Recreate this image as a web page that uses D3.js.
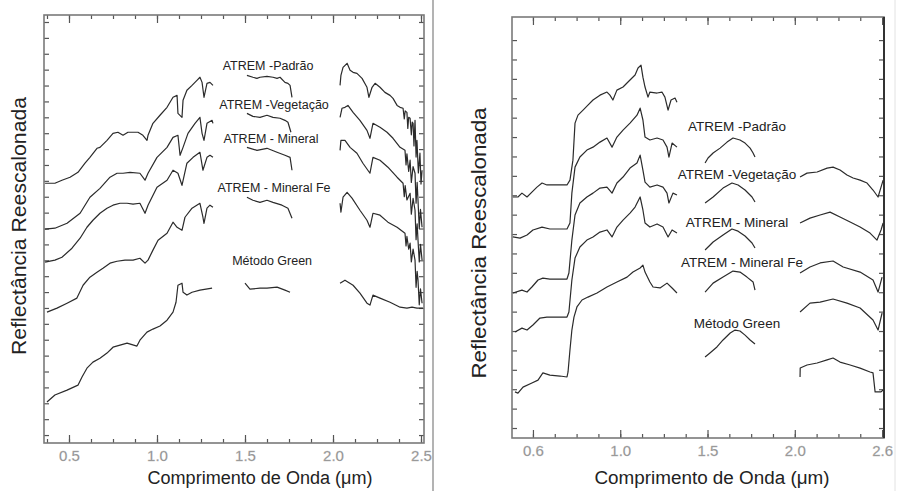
<!DOCTYPE html>
<html>
<head>
<meta charset="utf-8">
<script src="https://cdn.jsdelivr.net/npm/d3@7"></script>
<style>
  body { margin: 0; background: #fff; }
  svg text { font-family: "Liberation Sans", Arial, sans-serif; }
  .axis .domain { display: none; }
  .axis line { stroke: #555; }
</style>
</head>
<body>
<svg id="chart" width="897" height="491"></svg>
<script>
// series names, same order in both panels
const seriesNames = ['ATREM -Padrão', 'ATREM -Vegetação', 'ATREM - Mineral', 'ATREM - Mineral Fe', 'Método Green'];

// left panel: [wavelength µm, rescaled reflectance], null = gap (water bands)
const leftPadrao = [[0.364,15.85],[0.420,15.85],[0.460,16.04],[0.506,16.23],[0.551,16.54],[0.591,17.11],[0.619,17.48],[0.659,18.05],[0.676,18.11],[0.716,18.55],[0.750,18.99],[0.778,19.06],[0.807,18.87],[0.835,19.06],[0.892,19.06],[0.920,18.87],[0.943,18.55],[0.949,18.87],[0.977,19.62],[1.017,20.13],[1.057,20.63],[1.091,21.26],[1.114,21.38],[1.119,20.25],[1.142,20.00],[1.148,21.07],[1.170,21.70],[1.199,22.01],[1.227,22.33],[1.244,22.52],[1.256,22.20],[1.267,21.26],[1.284,22.14],[1.301,22.20],[1.318,22.01],
  null,[1.511,22.64],[1.545,22.52],[1.568,22.45],[1.585,22.52],[1.625,22.58],[1.659,22.52],[1.682,22.45],[1.699,22.52],[1.727,22.20],[1.744,22.14],[1.756,22.01],[1.767,21.26],
  null,[2.040,22.01],[2.045,22.64],[2.057,23.14],[2.080,23.40],[2.097,22.96],[2.114,22.83],[2.136,22.77],[2.165,22.45],[2.193,21.89],[2.204,21.26],[2.222,21.89],[2.239,22.14],[2.267,21.89],[2.295,21.57],[2.324,21.38],[2.341,21.19],[2.364,20.75],[2.381,20.63],[2.398,20.57],[2.405,19.9],[2.410,20.4],[2.420,20.31],[2.425,19.3],[2.430,20.0],[2.438,19.94],[2.445,18.9],[2.450,19.7],[2.455,19.62],[2.460,18.2],[2.466,19.81],[2.472,17.5],[2.477,18.55],[2.485,16.5],[2.494,17.74],[2.500,15.8],[2.506,16.67]];
const leftVegetacao = [[0.364,12.96],[0.420,13.02],[0.489,13.33],[0.563,13.96],[0.619,14.97],[0.676,15.53],[0.733,16.23],[0.773,16.48],[0.807,16.48],[0.847,16.54],[0.903,16.48],[0.932,16.04],[0.949,16.48],[1.000,17.48],[1.057,18.11],[1.091,18.74],[1.119,18.87],[1.131,17.61],[1.148,18.11],[1.176,18.99],[1.216,19.62],[1.244,20.00],[1.256,18.99],[1.267,18.55],[1.284,19.62],[1.313,19.81],[1.318,19.62],
  null,[1.511,20.25],[1.545,20.06],[1.585,20.00],[1.625,20.13],[1.659,20.00],[1.699,19.94],[1.727,19.81],[1.744,19.69],[1.761,19.06],
  null,[2.040,20.00],[2.051,20.57],[2.068,20.63],[2.085,20.75],[2.114,20.31],[2.153,19.81],[2.193,19.18],[2.210,18.68],[2.227,19.62],[2.267,19.37],[2.307,19.06],[2.341,18.68],[2.381,18.11],[2.409,17.92],[2.415,17.0],[2.420,17.7],[2.430,16.6],[2.438,17.30],[2.445,15.9],[2.455,16.9],[2.466,16.48],[2.472,14.6],[2.478,15.9],[2.483,14.78],[2.490,13.0],[2.497,14.2],[2.506,13.08]];
const leftMineral = [[0.364,10.88],[0.420,11.01],[0.460,11.19],[0.517,11.76],[0.563,12.39],[0.602,13.08],[0.636,13.52],[0.676,13.96],[0.716,14.28],[0.750,14.47],[0.790,14.59],[0.830,14.59],[0.864,14.53],[0.903,14.59],[0.932,13.96],[0.949,14.47],[1.000,15.60],[1.057,16.04],[1.091,16.67],[1.119,16.48],[1.142,15.72],[1.170,17.11],[1.205,17.48],[1.244,17.80],[1.261,16.67],[1.284,17.48],[1.301,17.61],[1.318,17.48],
  null,[1.511,18.11],[1.568,17.92],[1.625,18.05],[1.682,17.80],[1.727,17.61],[1.756,17.48],[1.767,16.67],
  null,[2.040,17.92],[2.045,18.55],[2.068,18.55],[2.097,18.11],[2.136,17.74],[2.170,17.11],[2.210,16.48],[2.227,17.48],[2.267,17.30],[2.312,16.86],[2.364,16.23],[2.398,15.85],[2.405,15.0],[2.410,15.7],[2.420,14.8],[2.438,15.22],[2.445,13.9],[2.455,14.9],[2.466,14.15],[2.472,12.3],[2.478,13.3],[2.483,12.26],[2.490,10.9],[2.497,12.0],[2.506,11.01]];
const leftMineralFe = [[0.375,7.74],[0.432,7.99],[0.489,8.30],[0.545,8.62],[0.580,9.43],[0.619,9.94],[0.659,10.25],[0.693,10.50],[0.733,10.82],[0.773,10.94],[0.818,11.01],[0.864,11.01],[0.903,11.13],[0.932,10.82],[0.949,11.01],[0.977,11.64],[1.006,12.26],[1.057,12.70],[1.091,13.40],[1.114,13.08],[1.142,12.89],[1.159,13.71],[1.199,14.28],[1.244,14.59],[1.261,13.71],[1.267,13.33],[1.284,14.28],[1.301,14.47],[1.318,14.34],
  null,[1.511,14.97],[1.545,14.78],[1.585,14.65],[1.625,14.78],[1.659,14.65],[1.710,14.47],[1.744,14.28],[1.767,13.65],
  null,[2.040,14.59],[2.045,14.03],[2.057,14.97],[2.080,15.28],[2.108,14.91],[2.153,14.15],[2.193,13.52],[2.210,13.08],[2.227,13.96],[2.267,13.84],[2.312,13.40],[2.364,13.08],[2.409,12.70],[2.415,11.9],[2.420,12.5],[2.430,11.7],[2.438,12.08],[2.445,10.9],[2.455,11.7],[2.466,11.01],[2.472,9.3],[2.478,10.3],[2.483,9.75],[2.490,8.2],[2.497,9.2],[2.506,8.30]];
const leftGreen = [[0.375,2.08],[0.420,2.52],[0.489,2.83],[0.551,3.14],[0.574,3.65],[0.602,4.21],[0.636,4.59],[0.676,4.84],[0.716,5.16],[0.750,5.53],[0.790,5.66],[0.830,5.79],[0.886,5.60],[0.903,5.97],[0.943,6.48],[0.977,6.67],[1.017,6.86],[1.057,7.23],[1.091,7.74],[1.108,8.36],[1.119,9.43],[1.142,9.56],[1.148,8.99],[1.170,8.81],[1.199,8.99],[1.244,9.12],[1.313,9.25],
  null,[1.500,9.56],[1.528,9.18],[1.585,9.25],[1.625,9.25],[1.682,9.31],[1.727,9.12],[1.756,8.99],
  null,[2.040,9.56],[2.068,9.75],[2.114,9.43],[2.153,8.93],[2.193,8.30],[2.210,8.18],[2.227,8.81],[2.267,8.62],[2.324,8.36],[2.381,8.05],[2.420,7.99],[2.449,8.05],[2.477,7.99],[2.511,7.99]];

// right panel
const rightPadrao = [[0.385,11.91],[0.414,11.91],[0.437,12.11],[0.466,11.91],[0.494,12.16],[0.523,12.42],[0.552,12.63],[0.580,12.53],[0.615,12.53],[0.695,12.53],[0.712,12.78],[0.729,13.81],[0.741,15.72],[0.758,16.13],[0.787,16.39],[0.815,16.65],[0.844,16.91],[0.884,17.16],[0.924,17.32],[0.941,17.16],[0.958,16.91],[0.981,17.42],[1.016,17.58],[1.056,17.94],[1.085,18.20],[1.102,18.56],[1.119,18.71],[1.130,18.09],[1.142,17.58],[1.159,17.06],[1.170,17.32],[1.211,17.27],[1.239,17.32],[1.256,17.06],[1.274,16.39],[1.291,16.91],[1.314,17.01],[1.325,16.80],
  null,[1.486,13.66],[1.503,13.92],[1.532,14.18],[1.572,14.43],[1.612,14.74],[1.646,14.95],[1.686,14.85],[1.715,14.69],[1.744,14.43],[1.761,14.18],[1.772,13.97],
  null,[2.030,12.94],[2.070,13.14],[2.128,13.20],[2.185,13.40],[2.219,13.45],[2.259,13.30],[2.299,13.04],[2.334,12.89],[2.374,12.78],[2.414,12.63],[2.448,12.27],[2.477,11.91],[2.494,12.42],[2.506,12.78]];
const rightVegetacao = [[0.385,9.85],[0.426,9.79],[0.466,9.95],[0.500,10.21],[0.552,10.36],[0.597,10.26],[0.655,10.26],[0.695,10.26],[0.712,10.57],[0.723,12.11],[0.741,13.45],[0.769,13.97],[0.809,14.33],[0.844,14.48],[0.884,14.74],[0.924,14.95],[0.953,14.48],[0.981,15.00],[1.016,15.36],[1.056,15.72],[1.096,16.13],[1.114,16.49],[1.130,15.88],[1.142,15.00],[1.170,14.85],[1.211,14.95],[1.245,14.85],[1.268,14.48],[1.279,13.97],[1.297,14.69],[1.325,14.48],
  null,[1.486,11.60],[1.532,11.91],[1.589,12.37],[1.640,12.63],[1.675,12.53],[1.715,12.27],[1.755,11.91],[1.772,11.65],
  null,[2.030,10.57],[2.087,10.82],[2.145,10.98],[2.202,11.13],[2.259,10.88],[2.317,10.62],[2.374,10.36],[2.431,10.05],[2.471,9.69],[2.494,10.21],[2.506,10.57]];
const rightMineral = [[0.385,6.96],[0.437,7.11],[0.466,7.01],[0.494,7.27],[0.529,7.63],[0.557,7.73],[0.597,7.68],[0.695,7.68],[0.706,7.99],[0.723,9.69],[0.741,10.98],[0.769,11.60],[0.809,11.91],[0.844,12.11],[0.884,12.37],[0.924,12.42],[0.953,12.11],[0.981,12.63],[1.016,12.94],[1.056,13.40],[1.096,13.66],[1.114,14.07],[1.130,13.30],[1.142,12.68],[1.170,12.42],[1.211,12.53],[1.245,12.42],[1.268,12.11],[1.279,11.60],[1.302,12.11],[1.325,12.01],
  null,[1.486,9.18],[1.532,9.59],[1.589,9.95],[1.640,10.26],[1.675,10.15],[1.715,9.90],[1.755,9.54],[1.772,9.28],
  null,[2.030,7.99],[2.087,8.30],[2.145,8.51],[2.219,8.61],[2.277,8.30],[2.374,8.04],[2.448,7.63],[2.477,7.01],[2.500,7.78]];
const rightMineralFe = [[0.397,4.95],[0.437,5.15],[0.466,5.05],[0.500,5.31],[0.540,5.67],[0.580,5.72],[0.638,5.72],[0.695,5.72],[0.706,5.98],[0.723,7.63],[0.741,8.76],[0.769,9.33],[0.809,9.69],[0.844,9.85],[0.884,10.10],[0.924,10.21],[0.953,9.85],[0.981,10.36],[1.016,10.72],[1.056,11.08],[1.085,11.39],[1.114,11.91],[1.130,11.24],[1.142,10.57],[1.170,10.36],[1.211,10.52],[1.245,10.36],[1.274,9.85],[1.297,10.21],[1.325,10.05],
  null,[1.486,7.01],[1.532,7.47],[1.589,7.78],[1.646,8.09],[1.686,8.04],[1.726,7.78],[1.761,7.53],[1.772,7.11],
  null,[2.030,5.98],[2.087,6.44],[2.145,6.49],[2.219,6.65],[2.299,6.44],[2.374,6.19],[2.448,5.57],[2.477,5.05],[2.500,5.93]];
const rightGreen = [[0.397,1.86],[0.414,1.80],[0.443,2.11],[0.494,2.32],[0.529,2.47],[0.557,2.84],[0.597,2.73],[0.655,2.68],[0.695,2.63],[0.701,2.89],[0.712,4.02],[0.723,5.05],[0.735,5.72],[0.752,6.24],[0.781,6.60],[0.815,6.75],[0.867,6.96],[0.924,7.27],[0.981,7.53],[1.039,7.78],[1.073,8.04],[1.114,8.25],[1.130,8.40],[1.142,8.04],[1.170,7.53],[1.188,7.27],[1.228,7.22],[1.268,7.47],[1.297,7.22],[1.325,6.96],
  null,[1.486,3.66],[1.514,3.87],[1.554,4.18],[1.589,4.54],[1.630,4.90],[1.658,5.05],[1.686,5.00],[1.715,4.79],[1.744,4.54],[1.772,4.33],
  null,[2.030,2.63],[2.031,3.09],[2.070,3.25],[2.128,3.35],[2.185,3.51],[2.219,3.61],[2.259,3.40],[2.317,3.25],[2.374,3.09],[2.431,2.89],[2.448,2.84],[2.460,1.86],[2.494,1.86],[2.506,1.96]];

// where the series names sit, in data units
const leftLabelPos = [[1.631,23.21],[1.665,20.75],[1.648,18.62],[1.665,15.53],[1.654,10.94]];
const rightLabelPos = [[1.669,15.52],[1.669,13.09],[1.669,10.62],[1.698,8.51],[1.669,5.41]];

const majorTicks = [0.5, 1.0, 1.5, 2.0, 2.5];
const leftTickLabels = ['0.5', '1.0', '1.5', '2.0', '2.5'];
const rightTickLabels = ['0.6', '1.0', '1.5', '2.0', '2.6'];
const xTitle = 'Comprimento de Onda (μm)';
const yTitle = 'Reflectância Reescalonada';

const svg = d3.select('#chart');

function drawPanel(cfg) {
  const g = svg.append('g');
  const x = d3.scaleLinear().domain(cfg.xDomain).range([cfg.left, cfg.right]);
  const y = d3.scaleLinear().domain(cfg.yDomain).range([cfg.bottom, cfg.top]);
  const minor = d3.range(0.375, 2.52, 0.125).filter(t => t >= cfg.xDomain[0] && t <= cfg.xDomain[1]);
  const yTicks = d3.range(0, cfg.yCount);

  // ticks, all pointing into the plot
  g.append('g').attr('class', 'axis').attr('transform', `translate(0,${cfg.bottom})`)
    .call(d3.axisBottom(x).tickValues(minor).tickSize(-4).tickFormat(''));
  g.append('g').attr('class', 'axis').attr('transform', `translate(0,${cfg.top})`)
    .call(d3.axisTop(x).tickValues(minor).tickSize(-4).tickFormat(''));
  g.append('g').attr('class', 'axis').attr('transform', `translate(0,${cfg.top})`)
    .call(d3.axisTop(x).tickValues(majorTicks).tickSize(-8).tickFormat(''));
  const xb = g.append('g').attr('class', 'axis').attr('transform', `translate(0,${cfg.bottom})`)
    .call(d3.axisBottom(x).tickValues(majorTicks).tickSize(-8).tickPadding(7)
      .tickFormat((d, i) => cfg.tickLabels[i]));
  xb.selectAll('text').attr('fill', '#8c8c8c').attr('font-size', 15)
    .attr('stroke', '#bbb').attr('stroke-width', 0.3);
  g.append('g').attr('class', 'axis').attr('transform', `translate(${cfg.left},0)`)
    .call(d3.axisLeft(y).tickValues(yTicks).tickSize(-5).tickFormat(''));
  g.append('g').attr('class', 'axis').attr('transform', `translate(${cfg.right},0)`)
    .call(d3.axisRight(y).tickValues(yTicks).tickSize(-5).tickFormat(''));
  g.selectAll('.axis line').attr('stroke-width', 1.2);

  // frame
  g.append('rect')
    .attr('x', cfg.left).attr('y', cfg.top)
    .attr('width', cfg.right - cfg.left).attr('height', cfg.bottom - cfg.top)
    .attr('fill', 'none').attr('stroke', '#7a7a7a').attr('stroke-width', 1.6);
  if (cfg.darkRight) {
    g.append('line').attr('x1', cfg.right).attr('x2', cfg.right)
      .attr('y1', cfg.top).attr('y2', cfg.bottom)
      .attr('stroke', '#333').attr('stroke-width', 2);
  }

  const line = d3.line().defined(d => d !== null).x(d => x(d[0])).y(d => y(d[1]));
  g.selectAll('path.spec').data(cfg.series).join('path')
    .attr('class', 'spec')
    .attr('d', line)
    .attr('fill', 'none')
    .attr('stroke', '#2b2b2b')
    .attr('stroke-width', 1.2)
    .attr('stroke-linejoin', 'round');

  g.selectAll('text.lab').data(seriesNames).join('text')
    .attr('class', 'lab')
    .attr('x', (d, i) => x(cfg.labelPos[i][0]))
    .attr('y', (d, i) => y(cfg.labelPos[i][1]))
    .attr('text-anchor', 'middle')
    .attr('dominant-baseline', 'central')
    .attr('font-size', cfg.labelSize)
    .attr('fill', '#222')
    .text(d => d);

  g.append('text')
    .attr('x', cfg.xTitle[0]).attr('y', cfg.xTitle[1])
    .attr('text-anchor', 'middle').attr('dominant-baseline', 'central')
    .attr('font-size', 18).attr('fill', '#222')
    .attr('textLength', cfg.xTitle[2]).attr('lengthAdjust', 'spacingAndGlyphs')
    .text(xTitle);

  g.append('text')
    .attr('transform', `translate(${cfg.yTitle[0]},${cfg.yTitle[1]}) rotate(-90)`)
    .attr('text-anchor', 'middle').attr('dominant-baseline', 'central')
    .attr('font-size', 21).attr('fill', '#222')
    .attr('textLength', cfg.yTitle[2]).attr('lengthAdjust', 'spacingAndGlyphs')
    .text(yTitle);
}

drawPanel({
  left: 44, right: 424, top: 15, bottom: 443,
  xDomain: [0.358, 2.517], yDomain: [-0.5, 26.44], yCount: 27,
  series: [leftPadrao, leftVegetacao, leftMineral, leftMineralFe, leftGreen],
  labelPos: leftLabelPos, labelSize: 12.5,
  tickLabels: leftTickLabels,
  xTitle: [260, 478, 225], yTitle: [18, 226, 258]
});

drawPanel({
  left: 512, right: 884, top: 17, bottom: 438,
  xDomain: [0.380, 2.511], yDomain: [-0.515, 21.19], yCount: 21,
  series: [rightPadrao, rightVegetacao, rightMineral, rightMineralFe, rightGreen],
  labelPos: rightLabelPos, labelSize: 13.5,
  tickLabels: rightTickLabels, darkRight: true,
  xTitle: [712, 478, 235], yTitle: [478, 243, 271]
});

// separator between the two figures, and the faint right border
svg.append('line').attr('x1', 433).attr('x2', 433).attr('y1', 0).attr('y2', 491)
  .attr('stroke', '#9a9a9a').attr('stroke-width', 1.5);
svg.append('line').attr('x1', 895).attr('x2', 895).attr('y1', 0).attr('y2', 491)
  .attr('stroke', '#e2e2e2').attr('stroke-width', 1);
</script>
</body>
</html>
